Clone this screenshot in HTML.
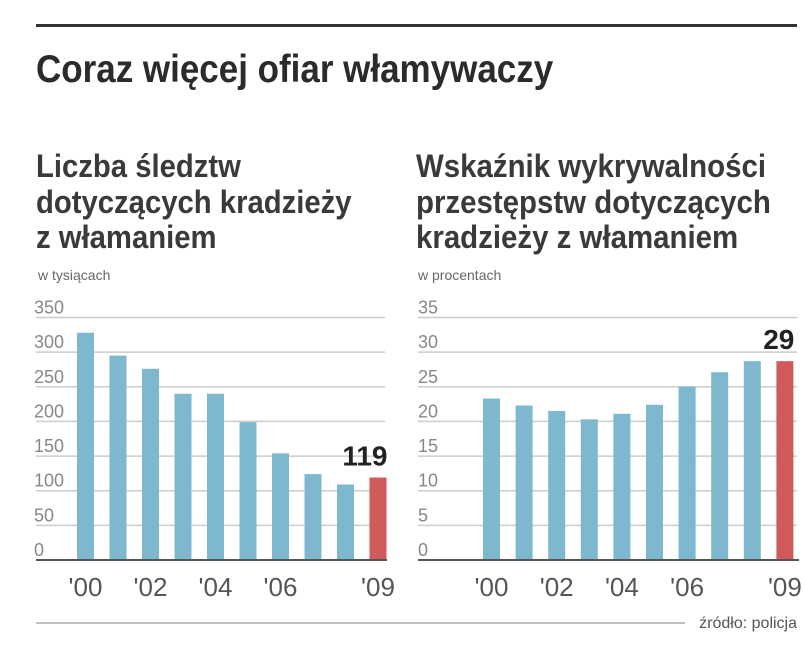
<!DOCTYPE html>
<html><head><meta charset="utf-8"><style>
body{margin:0;background:#fff;width:805px;height:659px;overflow:hidden;font-family:"Liberation Sans",sans-serif}
svg{position:absolute;left:0;top:0}
</style></head><body>
<svg width="805" height="659">
<rect x="36" y="24" width="761" height="3" fill="#333"/>
<text x="36" y="82" font-size="35" font-weight="bold" fill="#2b2b2b" transform="translate(36,82) scale(1,1.12) translate(-36,-82)">Coraz więcej ofiar włamywaczy</text>
<g font-size="32" font-weight="bold" fill="#3a3a3a" transform="translate(36,0) scale(0.915,1) translate(-36,0)">
<text x="36" y="177">Liczba śledztw</text><text x="36" y="213">dotyczących kradzieży</text><text x="36" y="248">z włamaniem</text></g>
<g font-size="32" font-weight="bold" fill="#3a3a3a" transform="translate(416,0) scale(0.92,1) translate(-416,0)">
<text x="416" y="177">Wskaźnik wykrywalności</text><text x="416" y="213">przestępstw dotyczących</text><text x="416" y="248">kradzieży z włamaniem</text></g>
<text x="38" y="280" font-size="14" fill="#666">w tysiącach</text>
<text x="418" y="280" font-size="14" fill="#666">w procentach</text>
<g id="c1"></g><g id="c2"></g>
<line x1="36" y1="623" x2="685" y2="623" stroke="#aaa" stroke-width="1.5"/>
<text x="797" y="628" font-size="16" fill="#555" text-anchor="end">źródło: policja</text>
</svg>
<script>
const years=['2000','2001','2002','2003','2004','2005','2006','2007','2008','2009'];
const xLabels=["'00","","'02","","'04","","'06","","","'09"];
const cases=[328,295,276,240,240,199,154,124,109,119];
const caseTicks=[0,50,100,150,200,250,300,350];
const rate=[23.3,22.3,21.5,20.3,21.1,22.4,25,27.1,28.7,28.7];
const rateTicks=[0,5,10,15,20,25,30,35];
const caseLabel='119', rateLabel='29';
const NS='http://www.w3.org/2000/svg';
function mk(p,t,a){const e=document.createElementNS(NS,t);for(const k in a)e.setAttribute(k,a[k]);p.appendChild(e);return e;}
function draw(g,vals,ticks,max,o,lab){
 const y=v=>560-v/max*242.5;
 const x=i=>o.x0+i*o.step;
 ticks.forEach(t=>{
  if(t>0){const l=mk(g,'line',{x1:o.gl,x2:o.gr,y1:y(t),y2:y(t),stroke:'#ccc','stroke-width':1.5});
  
  }
  const tx=mk(g,'text',{x:o.lx,y:y(t)-4,'font-size':18,fill:'#888'});
  tx.textContent=t;
  
  
 });
 vals.forEach((v,i)=>{
  const r=mk(g,'rect',{x:x(i),y:y(v),width:17,height:560-y(v),fill:i==9?'#d15a5a':'#7db8cf'});
  
  
  if(xLabels[i]){const t=mk(g,'text',{x:x(i)+8.5,y:596,'font-size':26,fill:'#555','text-anchor':'middle'});
  t.textContent=xLabels[i];
  
  }
 });
 const b=mk(g,'line',{x1:o.gl,x2:o.gr+2,y1:560,y2:560,stroke:'#555','stroke-width':2});
 
 
 const vl=mk(g,'text',{x:x(9)+18,y:y(vals[9])-12,'font-size':28,'font-weight':'bold',fill:'#222','text-anchor':'end'});
 vl.textContent=lab;
 
 
}
draw(document.getElementById('c1'),cases,caseTicks,350,{x0:77,step:32.5,gl:36,gr:385,lx:34},caseLabel);
draw(document.getElementById('c2'),rate,rateTicks,35,{x0:483,step:32.6,gl:418,gr:797,lx:418},rateLabel);
</script>
</body></html>
